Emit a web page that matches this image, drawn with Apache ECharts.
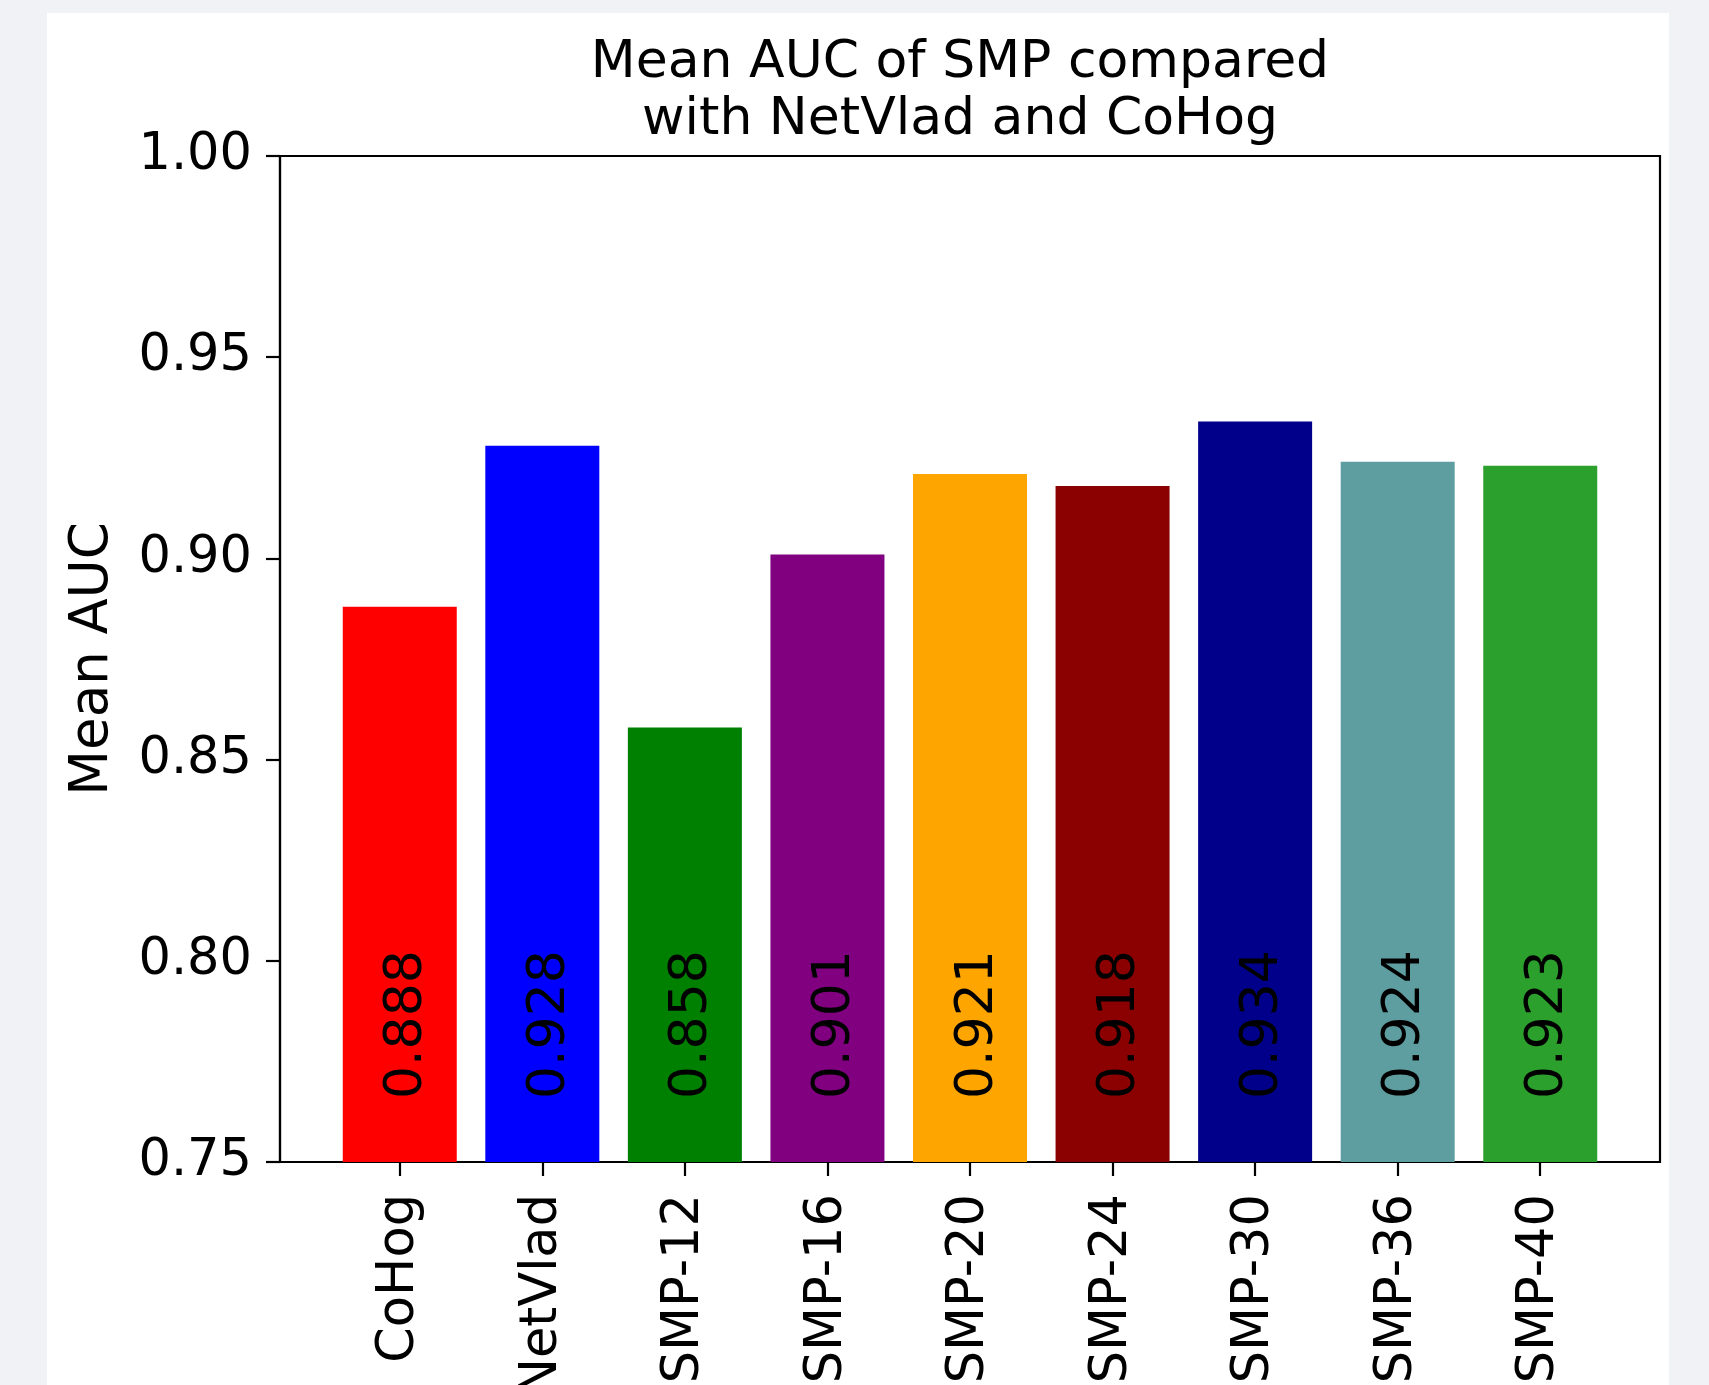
<!DOCTYPE html>
<html>
<head>
<meta charset="utf-8">
<script src="https://cdn.jsdelivr.net/npm/echarts@6/dist/echarts.min.js"></script>
<style>
  html, body { margin: 0; padding: 0; width: 1709px; height: 1385px; background: #f0f2f5; overflow: hidden; }
  #card { position: absolute; left: 47px; top: 13px; width: 1622px; height: 1400px; background: #ffffff; }
  #chart { position: absolute; left: 0; top: 0; width: 1709px; height: 1385px; }
</style>
</head>
<body>
<div id="card"></div>
<div id="chart"></div>
<script>
const categories = ['CoHog', 'NetVlad', 'SMP-12', 'SMP-16', 'SMP-20', 'SMP-24', 'SMP-30', 'SMP-36', 'SMP-40'];
const meanAUC = [0.888, 0.928, 0.858, 0.901, 0.921, 0.918, 0.934, 0.924, 0.923];
const barColors = ['#ff0000', '#0000ff', '#008000', '#800080', '#ffa500', '#8b0000', '#00008b', '#5f9ea0', '#2ca02c'];
const yTicks = [0.75, 0.80, 0.85, 0.90, 0.95, 1.00];

const FONT = 'DejaVu Sans';
const chart = echarts.init(document.getElementById('chart'), null, { renderer: 'canvas' });
const catIdx = categories.map((c, i) => i);

chart.setOption({
  backgroundColor: 'transparent',
  animation: false,
  title: {
    text: 'Mean AUC of SMP compared\nwith NetVlad and CoHog',
    left: 955,
    top: 30,
    textAlign: 'center',
    textStyle: { fontFamily: FONT, fontSize: 52, fontWeight: 'normal', color: '#000', lineHeight: 57 }
  },
  grid: {
    left: 280, top: 156, right: 49, bottom: 223,
    outerBoundsMode: 'none',
    containLabel: false,
    show: true, borderColor: '#000', borderWidth: 2.2, backgroundColor: 'transparent'
  },
  xAxis: {
    type: 'value',
    min: -0.84,
    max: 8.84,
    splitLine: { show: false },
    axisLine: { show: true, onZero: false, lineStyle: { color: '#000', width: 2.2 } },
    axisTick: { show: true, customValues: catIdx, length: 14, lineStyle: { color: '#000', width: 2.2 } },
    axisLabel: {
      customValues: catIdx,
      rotate: 90,
      margin: 32,
      fontFamily: FONT, fontSize: 51, color: '#000',
      formatter: v => categories[Math.round(v)]
    }
  },
  yAxis: {
    type: 'value',
    min: yTicks[0],
    max: yTicks[yTicks.length - 1],
    interval: 0.05,
    name: 'Mean AUC',
    nameLocation: 'middle',
    nameGap: 160,
    nameTextStyle: { fontFamily: FONT, fontSize: 53, color: '#000' },
    splitLine: { show: false },
    axisLine: { show: true, onZero: false, lineStyle: { color: '#000', width: 2.2 } },
    axisTick: { show: true, length: 14, lineStyle: { color: '#000', width: 2.2 } },
    axisLabel: {
      margin: 28,
      fontFamily: FONT, fontSize: 51, color: '#000',
      formatter: v => v.toFixed(2)
    }
  },
  series: [{
    type: 'bar',
    barWidth: 114,
    data: meanAUC.map((v, i) => ({ value: [i, v], itemStyle: { color: barColors[i] } })),
    label: {
      show: true,
      position: 'insideBottom',
      distance: 63,
      rotate: 90,
      align: 'left',
      verticalAlign: 'middle',
      offset: [0, 8],
      fontFamily: FONT,
      fontSize: 52,
      color: '#000',
      formatter: p => p.value[1].toFixed(3)
    }
  }]
});
</script>
</body>
</html>
